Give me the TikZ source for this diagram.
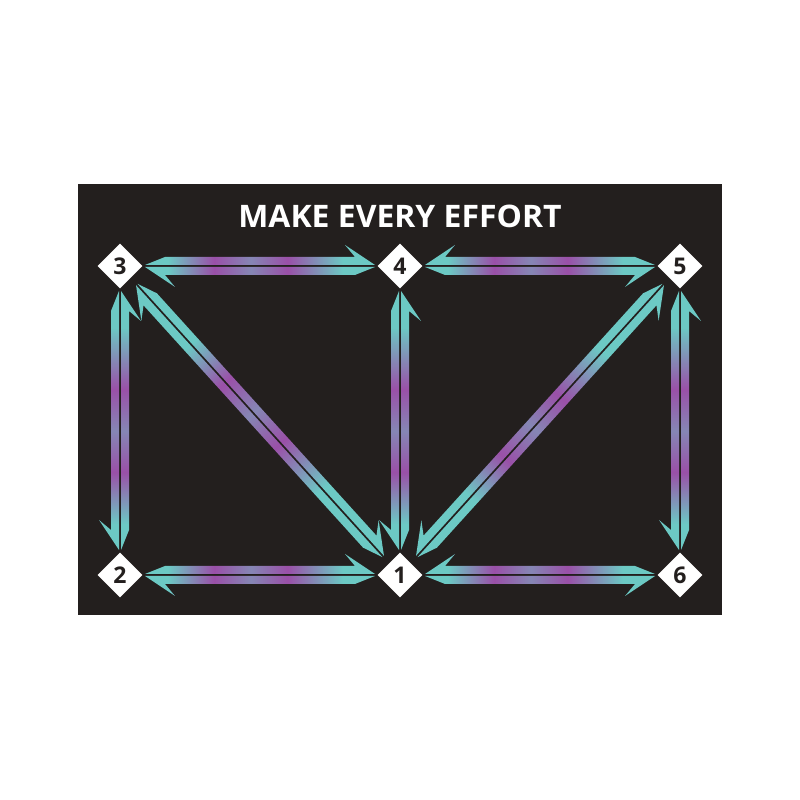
\documentclass[tikz,border=0pt]{standalone}
\usepackage{fontspec}
\setsansfont{Open Sans}
\usetikzlibrary{shapes.geometric}

\definecolor{board}{HTML}{231F1E}
\definecolor{aqua}{HTML}{6CC9C4}
\definecolor{plum}{HTML}{9A50A8}

\pgfdeclarehorizontalshading{mottle}{100bp}{color(0bp)=(aqua); color(30bp)=(aqua); color(40bp)=(plum); color(48bp)=(plum!55!aqua); color(56bp)=(plum); color(68bp)=(aqua); color(100bp)=(aqua)}

\tikzset{
  spot/.style={diamond, fill=white, text=board, minimum size=45pt, inner sep=0pt,
    font=\sffamily\bfseries\fontsize{23}{23}\selectfont},
  strip/.style={shading=mottle, shading angle=#1},
}

% split arrow between two spots: from, to, side (1 or -1)
\newcommand\splitarrow[3]{%
  \pgfpointdiff{\pgfpointanchor{#1}{center}}{\pgfpointanchor{#2}{center}}%
  \pgfgetlastxy{\dx}{\dy}%
  \pgfmathsetmacro\arrang{atan2(\dy,\dx)}%
  \pgfmathsetmacro\arrend{veclen(\dx,\dy)-25}%
  \begin{scope}[shift={(#1.center)}, rotate=\arrang, yscale=#3]
    % half pointing to #2
    \shade[strip=\arrang] (25,1) -- (45,9) -- (\arrend-20,9) -- (\arrend-30,21) -- (\arrend,1) -- cycle;
    % half pointing to #1
    \shade[strip=\arrang] (\arrend,-1) -- (\arrend-20,-9) -- (45,-9) -- (55,-21) -- (25,-1) -- cycle;
  \end{scope}}

\begin{document}
\begin{tikzpicture}[x=1pt,y=1pt]
  \useasboundingbox (0,0) rectangle (800,800);

  % board
  \fill[board] (78,185) rectangle (722,616);
  \node[text=white, xscale=1.03, transform shape, font=\sffamily\bfseries\fontsize{31}{31}\selectfont] (title) at (400,584) {MAKE EVERY EFFORT};

  % spots
  \node[spot] (s3) at (120,534) {3};
  \node[spot] (s4) at (400,534) {4};
  \node[spot] (s5) at (680,534) {5};
  \node[spot] (s2) at (120,225) {2};
  \node[spot] (s1) at (400,225) {1};
  \node[spot] (s6) at (680,225) {6};

  % arrows
  \splitarrow{s3}{s4}{1}
  \splitarrow{s4}{s5}{-1}
  \splitarrow{s2}{s1}{1}
  \splitarrow{s1}{s6}{-1}
  \splitarrow{s2}{s3}{-1}
  \splitarrow{s1}{s4}{-1}
  \splitarrow{s6}{s5}{-1}
  \splitarrow{s3}{s1}{1}
  \splitarrow{s1}{s5}{-1}
\end{tikzpicture}
\end{document}
